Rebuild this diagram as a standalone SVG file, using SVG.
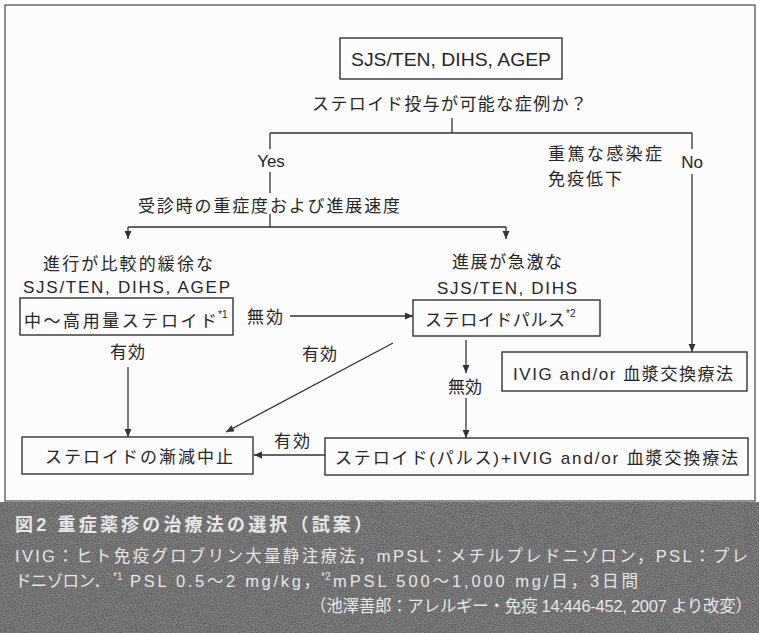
<svg xmlns="http://www.w3.org/2000/svg" width="759" height="633" viewBox="0 0 759 633">
<defs>
<style>
.t{font-family:"Liberation Sans","Noto Sans CJK JP",sans-serif;font-size:17px;fill:#262626}
.c{text-anchor:middle}
.box{fill:none;stroke:#333;stroke-width:1.4}
.ln{fill:none;stroke:#333;stroke-width:1.3}
.sup{font-size:10px}
.cap{font-family:"Liberation Sans","Noto Sans CJK JP",sans-serif;font-size:16.5px;fill:#e6e6e6}
.capb{font-weight:bold;font-size:18px}
</style>
<marker id="ah" markerUnits="userSpaceOnUse" markerWidth="9" markerHeight="8" refX="8" refY="3.5" orient="auto">
<path d="M0,0 L8,3.5 L0,7 z" fill="#333"/>
</marker>
<filter id="noise" x="0" y="0" width="100%" height="100%">
<feTurbulence type="fractalNoise" baseFrequency="0.9" numOctaves="2" seed="3" result="n"/>
<feColorMatrix in="n" type="matrix" values="0 0 0 0 0.35  0 0 0 0 0.35  0 0 0 0 0.35  0 0 0 1.2 -0.3"/>
</filter>
</defs>
<rect x="0" y="0" width="759" height="633" fill="#fff"/>
<rect x="5" y="5" width="750" height="496" fill="#fcfcfc" stroke="#555" stroke-width="1.3"/>

<g id="connectors">
<line class="ln" x1="452" y1="118" x2="452" y2="133"/>
<line class="ln" x1="270" y1="133" x2="692" y2="133"/>
<line class="ln" x1="270" y1="133" x2="270" y2="149"/>
<line class="ln" x1="270" y1="172" x2="270" y2="193"/>
<line class="ln" x1="270" y1="214" x2="270" y2="227"/>
<line class="ln" x1="692" y1="133" x2="692" y2="149"/>
<line class="ln" x1="692" y1="174" x2="692" y2="352" marker-end="url(#ah)"/>
<line class="ln" x1="128" y1="227" x2="506" y2="227"/>
<line class="ln" x1="128" y1="227" x2="128" y2="239" marker-end="url(#ah)"/>
<line class="ln" x1="506" y1="227" x2="506" y2="239" marker-end="url(#ah)"/>
<line class="ln" x1="290" y1="316" x2="413" y2="316" marker-end="url(#ah)"/>
<line class="ln" x1="128" y1="367" x2="128" y2="437" marker-end="url(#ah)"/>
<line class="ln" x1="393" y1="343" x2="226" y2="432" marker-end="url(#ah)"/>
<line class="ln" x1="466" y1="340" x2="466" y2="373" marker-end="url(#ah)"/>
<line class="ln" x1="466" y1="398" x2="466" y2="438" marker-end="url(#ah)"/>
<line class="ln" x1="325" y1="455" x2="254" y2="455" marker-end="url(#ah)"/>
</g>

<g id="labels">
<text class="t" x="312" y="110" textLength="275" lengthAdjust="spacing">ステロイド投与が可能な症例か？</text>
<text class="t c" x="271" y="167">Yes</text>
<text class="t c" x="692" y="168">No</text>
<text class="t" x="548" y="160" textLength="114" lengthAdjust="spacing">重篤な感染症</text>
<text class="t" x="548" y="185" textLength="74" lengthAdjust="spacing">免疫低下</text>
<text class="t" x="138" y="212" textLength="262" lengthAdjust="spacing">受診時の重症度および進展速度</text>
<text class="t" x="43" y="270" textLength="170" lengthAdjust="spacing">進行が比較的緩徐な</text>
<text class="t" x="23" y="293" textLength="207" lengthAdjust="spacing">SJS/TEN, DIHS, AGEP</text>
<text class="t" x="452" y="268" textLength="110" lengthAdjust="spacing">進展が急激な</text>
<text class="t" x="437" y="294" textLength="140" lengthAdjust="spacing">SJS/TEN, DIHS</text>
<text class="t" x="247" y="323" textLength="36" lengthAdjust="spacing">無効</text>
<text class="t" x="110" y="358" textLength="35" lengthAdjust="spacing">有効</text>
<text class="t" x="302" y="360" textLength="35" lengthAdjust="spacing">有効</text>
<text class="t" x="448" y="393" textLength="34" lengthAdjust="spacing">無効</text>
<text class="t" x="274" y="447" textLength="36" lengthAdjust="spacing">有効</text>
</g>

<g id="n-top">
<rect class="box" x="340" y="38" width="222" height="41"/>
<text class="t" x="351" y="66" style="font-size:18px" textLength="200" lengthAdjust="spacingAndGlyphs">SJS/TEN, DIHS, AGEP</text>
</g>

<g id="n-mid-steroid">
<rect class="box" x="20" y="298" width="213" height="37"/>
<text class="t" x="24" y="327" textLength="193" lengthAdjust="spacing">中～高用量ステロイド</text>
<text class="t sup" x="218" y="318">*1</text>
</g>

<g id="n-pulse">
<rect class="box" x="413" y="300" width="187" height="36"/>
<text class="t" x="425" y="326" textLength="140" lengthAdjust="spacing">ステロイドパルス</text>
<text class="t sup" x="566" y="317">*2</text>
</g>

<g id="n-ivig">
<rect class="box" x="502" y="352" width="245" height="39"/>
<text class="t" x="513" y="380" textLength="220" lengthAdjust="spacing">IVIG and/or 血漿交換療法</text>
</g>

<g id="n-taper">
<rect class="box" x="22" y="437" width="231" height="37"/>
<text class="t" x="45" y="463" textLength="188" lengthAdjust="spacing">ステロイドの漸減中止</text>
</g>

<g id="n-combo">
<rect class="box" x="325" y="438" width="423" height="37"/>
<text class="t" x="335" y="464" textLength="403" lengthAdjust="spacing">ステロイド(パルス)+IVIG and/or 血漿交換療法</text>
</g>

<g id="caption">
<rect x="0" y="502" width="759" height="131" fill="#5e5e5e"/>
<rect x="0" y="502" width="759" height="131" filter="url(#noise)"/>
<text class="cap capb" x="15" y="531" textLength="357" lengthAdjust="spacing">図2 重症薬疹の治療法の選択（試案）</text>
<text class="cap" x="15" y="562" textLength="733" lengthAdjust="spacing">IVIG：ヒト免疫グロブリン大量静注療法，mPSL：メチルプレドニゾロン，PSL：プレ</text>
<text class="cap" x="15" y="587" textLength="95" lengthAdjust="spacing">ドニゾロン．</text>
<text class="cap" x="113" y="580" style="font-size:10px">*1</text>
<text class="cap" x="130" y="587" textLength="190" lengthAdjust="spacing">PSL 0.5～2 mg/kg，</text>
<text class="cap" x="321" y="580" style="font-size:10px">*2</text>
<text class="cap" x="333" y="587" textLength="305" lengthAdjust="spacing">mPSL 500～1,000 mg/日，3日間</text>
<text class="cap" x="310" y="612" textLength="442" lengthAdjust="spacing">（池澤善郎：アレルギー・免疫 14:446-452, 2007 より改変）</text>
</g>
</svg>
